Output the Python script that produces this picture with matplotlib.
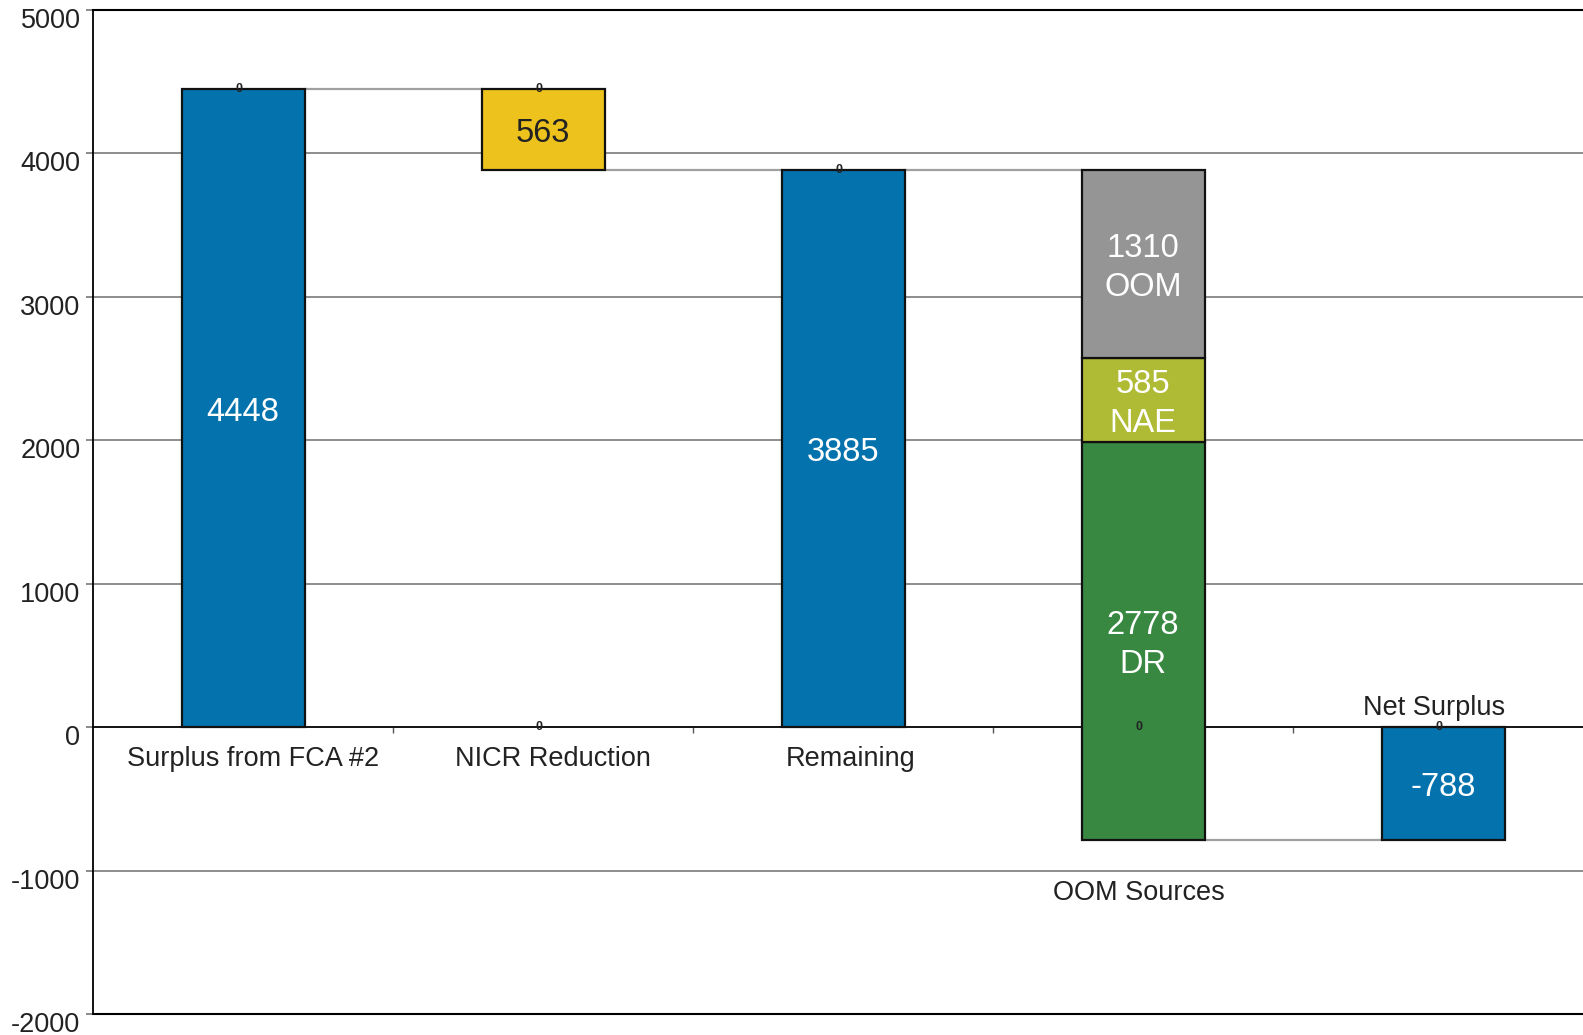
import matplotlib
matplotlib.use("Agg")
import matplotlib.pyplot as plt
import matplotlib.transforms as mtransforms

plt.rcParams['font.family'] = ['Liberation Sans', 'DejaVu Sans']

# ---- data ----
categories = ["Surplus from FCA #2", "NICR Reduction", "Remaining", "OOM Sources", "Net Surplus"]
surplus = 4448
nicr_reduction = 563
remaining = 3885
oom_names = ["DR", "NAE", "OOM"]
oom_values = [2778, 585, 1310]
net_surplus = -788
yticks = [-2000, -1000, 0, 1000, 2000, 3000, 4000, 5000]

# ---- style ----
BLUE = "#0472AD"
YELLOW = "#EEC21D"
GRAY = "#959595"
OLIVE = "#B0BB35"
GREEN = "#388842"
bw = 0.41

fig = plt.figure(figsize=(15.83, 10.35), dpi=100)
ax = fig.add_axes([93/1583, 1 - 1014/1035, 1500/1583, (1014 - 10)/1035])
ax.set_xlim(-0.5, 4.5)
ax.set_ylim(-2000, 5000)

def down(px):
    return ax.transData + mtransforms.ScaledTranslation(0, -px/100, fig.dpi_scale_trans)

# grid
for y in yticks:
    if y in (0, -2000, 5000):
        continue
    ax.axhline(y, color="#7a7a7a", lw=1.2, zorder=0)

edge = dict(edgecolor="#111111", linewidth=1.6, zorder=3)

# bars
ax.bar(0, surplus, width=bw, color=BLUE, **edge)
ax.bar(1, nicr_reduction, bottom=surplus - nicr_reduction, width=bw, color=YELLOW, **edge)
ax.bar(2, remaining, width=bw, color=BLUE, **edge)
oom_colors = [GREEN, OLIVE, GRAY]
oom_total = sum(oom_values)
bottom = remaining - oom_total
oom_bottoms = []
for v, c in zip(oom_values, oom_colors):
    ax.bar(3, v, bottom=bottom, width=bw, color=c, **edge)
    oom_bottoms.append(bottom)
    bottom += v
ax.bar(4, net_surplus, width=bw, color=BLUE, **edge)

# connectors
con = dict(color="#a0a0a0", lw=1.6, zorder=2)
ax.plot([0 + bw/2, 1 - bw/2], [surplus, surplus], **con)
ax.plot([1 + bw/2, 2 - bw/2], [surplus - nicr_reduction] * 2, **con)
ax.plot([2 + bw/2, 3 - bw/2], [remaining, remaining], **con)
ax.plot([3 + bw/2, 4 - bw/2], [remaining - oom_total] * 2, **con)

# value labels
vfs = 23.5
vt = down(4)
ax.text(0, surplus / 2, str(surplus), ha="center", va="center", color="white", fontsize=vfs, zorder=5, transform=vt)
ax.text(1, surplus - nicr_reduction / 2, str(nicr_reduction), ha="center", va="center", color="#222222", fontsize=vfs, zorder=5, transform=vt)
ax.text(2, remaining / 2, str(remaining), ha="center", va="center", color="white", fontsize=vfs, zorder=5, transform=vt)
for v, b, n in zip(oom_values, oom_bottoms, oom_names):
    ax.text(3, b + v / 2, f"{v}\n{n}", ha="center", va="center", color="white",
            fontsize=vfs, linespacing=1.32, zorder=5, transform=vt)
ax.text(4, net_surplus / 2, str(net_surplus), ha="center", va="center", color="white", fontsize=vfs, zorder=5, transform=vt)

# tiny "0" markers
zero_pts = [(0, surplus), (1, surplus), (1, 0), (2, remaining), (3, 0), (4, 0)]
for x, y in zero_pts:
    ax.text(x - 0.012, y, "0", ha="center", va="center", fontsize=9, color="#222222",
            fontweight="bold", zorder=6)

# category labels
cfs = 19.5
lt = down(2)
lab_pos = [(0.034, -210), (0.032, -210), (0.025, -210), (-0.015, -1140), (-0.03, 148)]
for i, (cat, (dx, y)) in enumerate(zip(categories, lab_pos)):
    ax.text(i + dx, y, cat, ha="center", va="center", fontsize=cfs, color="#222222", zorder=6, transform=lt)

# axes styling
ax.spines['bottom'].set_position(('data', 0))
ax.spines['bottom'].set_color("black")
ax.spines['bottom'].set_linewidth(1.3)
ax.spines['bottom'].set_zorder(2.5)
ax.spines['left'].set_color("black")
ax.spines['left'].set_linewidth(1.3)
ax.spines['top'].set_color("black")
ax.spines['top'].set_linewidth(1.5)
ax.spines['right'].set_visible(False)
ax.axhline(-2000, color="black", lw=1.5, clip_on=False, zorder=1)

ax.set_xticks([0.5, 1.5, 2.5, 3.5])
ax.set_xticklabels([])
ax.tick_params(axis='x', direction='out', length=4, color="#555555", width=1)

ax.set_yticks(yticks)
ax.set_yticklabels([str(t) for t in yticks], fontsize=19.5, color="#222222")
ax.tick_params(axis='y', direction='out', length=5, color="#777777", width=1.2, pad=4)
shift = mtransforms.ScaledTranslation(0, -8/100, fig.dpi_scale_trans)
for lbl in ax.get_yticklabels():
    lbl.set_transform(lbl.get_transform() + shift)

fig.savefig("out.png", dpi=100)
